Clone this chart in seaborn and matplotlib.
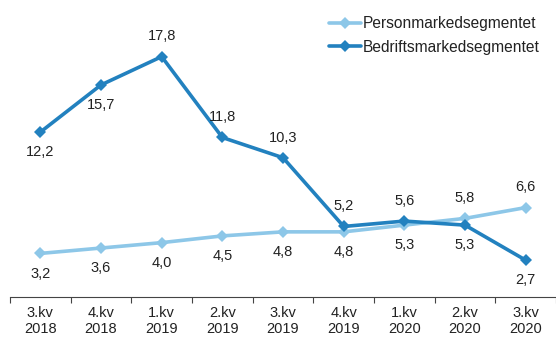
import matplotlib
matplotlib.use("Agg")
import matplotlib.pyplot as plt
import seaborn as sns
import pandas as pd
import numpy as np

quarters = ["3.kv\n2018", "4.kv\n2018", "1.kv\n2019", "2.kv\n2019", "3.kv\n2019",
            "4.kv\n2019", "1.kv\n2020", "2.kv\n2020", "3.kv\n2020"]
person = [3.2, 3.6, 4.0, 4.5, 4.8, 4.8, 5.3, 5.8, 6.6]
bedrift = [12.2, 15.7, 17.8, 11.8, 10.3, 5.2, 5.6, 5.3, 2.7]
# label placement: +1 above the point, -1 below
person_pos = [-1, -1, -1, -1, -1, -1, -1, 1, 1]
bedrift_pos = [-1, -1, 1, 1, 1, 1, 1, -1, -1]

series_names = ["Personmarkedsegmentet", "Bedriftsmarkedsegmentet"]
colors = ["#8DC7E8", "#2281BF"]

sns.set_theme(style="white")
plt.rcParams["font.family"] = ["Liberation Sans", "DejaVu Sans"]

x = np.arange(len(quarters))
df = pd.DataFrame({
    "x": np.concatenate([x, x]),
    "verdi": person + bedrift,
    "serie": [series_names[0]] * len(x) + [series_names[1]] * len(x),
})

fig = plt.figure(figsize=(5.56, 3.37), dpi=100)
ax = fig.add_axes([0.018, 0.12, 0.982, 0.88])

sns.lineplot(data=df, x="x", y="verdi", hue="serie", palette=colors,
             marker="D", markersize=6, markeredgewidth=0, linewidth=2.6,
             ax=ax, legend=True)

for vals, pos in ((person, person_pos), (bedrift, bedrift_pos)):
    for xi, v, p in zip(x, vals, pos):
        ax.annotate(f"{v:.1f}".replace(".", ","), (xi, v),
                    xytext=(0, 14.5 * p), textcoords="offset points",
                    ha="center", va="center", fontsize=10.5, color="#222222")

ax.set_xlim(-0.5, len(quarters) - 0.5)
ax.set_ylim(0, 22)
ax.set_xticks(x)
ax.set_xticklabels(quarters, fontsize=10.5, color="#222222")
ax.set_xticks(np.arange(len(quarters) + 1) - 0.5, minor=True)
ax.tick_params(axis="x", which="major", length=0, pad=7)
ax.tick_params(axis="x", which="minor", length=4, width=0.8, color="#444444",
               direction="out", bottom=True)
ax.set_yticks([])
ax.set_xlabel("")
ax.set_ylabel("")
for side in ("top", "right", "left"):
    ax.spines[side].set_visible(False)
ax.spines["bottom"].set_color("#444444")
ax.spines["bottom"].set_linewidth(0.8)

leg = ax.legend(loc="upper right", frameon=False, fontsize=11.2,
                handlelength=2.1, handletextpad=0.1, borderaxespad=0.65,
                labelspacing=0.55)
for t in leg.get_texts():
    t.set_color("#222222")

fig.savefig("out.png", dpi=100)
